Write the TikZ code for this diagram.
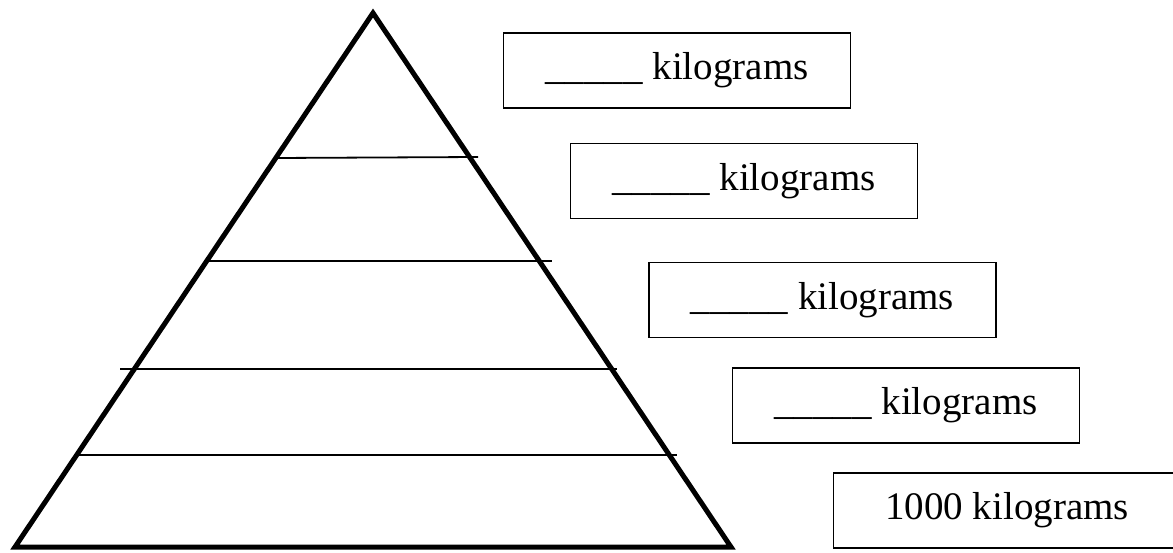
\documentclass[tikz,border=0pt]{standalone}
\usepackage{fontspec}
\setmainfont{Liberation Serif}
\usepackage{tikz}
\usetikzlibrary{positioning}
\tikzstyle{massbox} = [rectangle, draw, line width=1.6pt, minimum width=347pt,
    minimum height=75pt, inner sep=0pt, font=\fontsize{39}{47}\selectfont]
\tikzset{
    pyramid/.style={line width=5pt, line join=miter},
    level/.style={line width=1.8pt}
}

\begin{document}
\begin{tikzpicture}[x=1pt,y=-1pt]
    \useasboundingbox (0,0) rectangle (1173,552);

    % Pyramid outline
    \coordinate (apex) at (373,13);
    \coordinate (baseL) at (15,547);
    \coordinate (baseR) at (731,547);
    \draw[pyramid] (baseL) -- (apex) -- (baseR) -- cycle;

    % Level lines
    \coordinate (l1a) at (275,158);  \coordinate (l1b) at (478,157);
    \coordinate (l2a) at (205,261);  \coordinate (l2b) at (552,261);
    \coordinate (l3a) at (120,369);  \coordinate (l3b) at (617,369);
    \coordinate (l4a) at (75,455);   \coordinate (l4b) at (677,455);
    \draw[level] (l1a) -- (l1b);
    \draw[level] (l2a) -- (l2b);
    \draw[level] (l3a) -- (l3b);
    \draw[level] (l4a) -- (l4b);

    % Mass boxes
    \node[massbox] (mass1) at (677,70.5) {\_\_\_\_\_ kilograms};
    \node[massbox] (mass2) at (744,181) {\_\_\_\_\_ kilograms};
    \node[massbox] (mass3) at (822.5,300) {\_\_\_\_\_ kilograms};
    \node[massbox] (mass4) at (906,405.5) {\_\_\_\_\_ kilograms};
    \node[massbox] (mass5) at (1007,510.5) {1000 kilograms};
\end{tikzpicture}
\end{document}
